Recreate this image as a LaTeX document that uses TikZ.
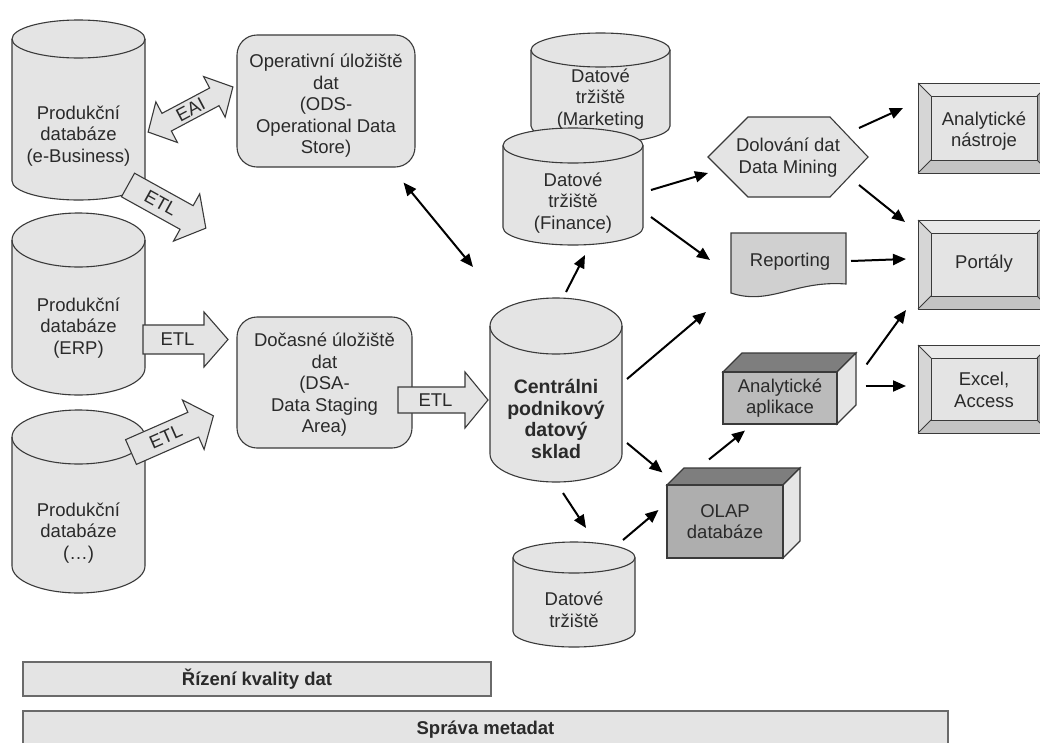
\documentclass[tikz,border=0pt]{standalone}
\usepackage{fontspec}
\setmainfont{Liberation Sans}
\usetikzlibrary{arrows.meta}
\definecolor{fillg}{HTML}{E4E4E4}
\definecolor{edge}{HTML}{3A3A3A}
\definecolor{txtc}{HTML}{2A2A2A}
\definecolor{repc}{HTML}{D0D0D0}
\definecolor{aac}{HTML}{BBBBBB}
\definecolor{olapc}{HTML}{AEAEAE}
\definecolor{cubetop}{HTML}{7E7E7E}
\definecolor{cubeside}{HTML}{E6E6E6}
\definecolor{bvtopc}{HTML}{E9E9E9}
\definecolor{bvleftc}{HTML}{D6D6D6}
\definecolor{bvbotc}{HTML}{C4C4C4}
\definecolor{bvrightc}{HTML}{A4A4A4}
\definecolor{barline}{HTML}{6A6A6A}
\tikzset{
  shp/.style={draw=edge, line width=1.1pt, fill=fillg},
  txt/.style={text=txtc, align=center, inner sep=0pt, font=\fontsize{18.5}{21.5}\selectfont},
  holder/.style={inner sep=0pt, outer sep=0pt},
  arr/.style={line width=2pt, draw=black, -{Triangle[length=13pt,width=11pt]}},
  darr/.style={line width=2pt, draw=black, {Triangle[length=13pt,width=11pt]}-{Triangle[length=13pt,width=11pt]}},
  bvline/.style={draw=edge, line width=1pt},
  barbox/.style={draw=barline, line width=1.2pt, fill=fillg, inner sep=0pt, text=txtc, font=\fontsize{18.5}{21.5}\selectfont\bfseries}
}
\newcommand\cenfont{\fontsize{19.5}{21.5}\selectfont\bfseries}
% cylinder: name, L, T, R, B (px, y down), ry, text y, text
\newcommand\cylnode[8]{%
  \pgfmathsetmacro\cyx{(#2+#4)/2}%
  \pgfmathsetmacro\cyr{(#4-#2)/2}%
  \pgfmathsetmacro\cyw{#4-#2}%
  \pgfmathsetmacro\cyh{#5-#3}%
  \pgfmathsetmacro\cym{-(#3+#5)/2}%
  \filldraw[shp] (#2,-#3-#6) -- (#2,-#5+#6) arc[start angle=180,end angle=360,x radius=\cyr,y radius=#6] -- (#4,-#3-#6) arc[start angle=0,end angle=180,x radius=\cyr,y radius=#6] -- cycle;
  \draw[shp,fill=none] (#2,-#3-#6) arc[start angle=180,end angle=360,x radius=\cyr,y radius=#6];
  \node[holder, minimum width=\cyw, minimum height=\cyh] (#1) at (\cyx,\cym) {};
  \node[txt] (#1-t) at (\cyx,-#7) {#8};
}
% bevelled box: name, L, T, R, B, text y, text
\newcommand\bevbox[7]{%
  \fill[bvtopc] (#2,-#3) -- (#4,-#3) -- (#4-13,-#3-13) -- (#2+13,-#3-13) -- cycle;
  \fill[bvleftc] (#2,-#3) -- (#2+13,-#3-13) -- (#2+13,-#5+13) -- (#2,-#5) -- cycle;
  \fill[bvbotc] (#2,-#5) -- (#2+13,-#5+13) -- (#4-13,-#5+13) -- (#4,-#5) -- cycle;
  \fill[bvrightc] (#4,-#3) -- (#4-13,-#3-13) -- (#4-13,-#5+13) -- (#4,-#5) -- cycle;
  \filldraw[bvline, fill=fillg] (#2+13,-#3-13) rectangle (#4-13,-#5+13);
  \draw[bvline] (#2,-#3) rectangle (#4,-#5);
  \draw[bvline] (#2,-#3) -- (#2+13,-#3-13) (#4,-#3) -- (#4-13,-#3-13) (#2,-#5) -- (#2+13,-#5+13) (#4,-#5) -- (#4-13,-#5+13);
  \pgfmathsetmacro\bvx{(#2+#4)/2}%
  \pgfmathsetmacro\bvy{-(#3+#5)/2}%
  \pgfmathsetmacro\bvw{#4-#2}%
  \pgfmathsetmacro\bvh{#5-#3}%
  \node[holder, minimum width=\bvw, minimum height=\bvh] (#1) at (\bvx,\bvy) {};
  \node[txt] (#1-t) at (\bvx,-#6) {#7};
}
% 3D box: name, L, T, R, B (front face), depth, front colour, text
\newcommand\cubenode[8]{%
  \filldraw[shp, fill=cubetop] (#2,-#3) -- (#2+#6,-#3+#6) -- (#4+#6,-#3+#6) -- (#4,-#3) -- cycle;
  \filldraw[shp, fill=cubeside] (#4,-#3) -- (#4+#6,-#3+#6) -- (#4+#6,-#5+#6) -- (#4,-#5) -- cycle;
  \pgfmathsetmacro\cbx{(#2+#4)/2}%
  \pgfmathsetmacro\cby{-(#3+#5)/2}%
  \pgfmathsetmacro\cbw{#4-#2}%
  \pgfmathsetmacro\cbh{#5-#3}%
  \node[shp, txt, fill=#7, minimum width=\cbw, minimum height=\cbh] (#1) at (\cbx,\cby) {#8};
}
% block arrow: name, tail x, tail y, angle, length, shaft half, head half, head length, label
\newcommand\blockarr[9]{%
  \begin{scope}[shift={(#2,-#3)}, rotate=#4]
    \filldraw[shp] (0,-#6) -- (#5-#8,-#6) -- (#5-#8,-#7) -- (#5,0) -- (#5-#8,#7) -- (#5-#8,#6) -- (0,#6) -- cycle;
    \node[txt, rotate=#4] (#1) at ({(#5-#8)/2+4},0) {#9};
  \end{scope}
}
\begin{document}
\begin{tikzpicture}[x=1pt,y=1pt]
\useasboundingbox (0,0) rectangle (1040,-742);
\clip (0,0) rectangle (1040,-742);
\fill[white] (0,0) rectangle (1040,-742);

% production databases
\cylnode{eb}{12}{20}{145}{200}{19}{136}{Produkční\\databáze\\(e-Business)}
\cylnode{erp}{12}{213}{145}{395}{27}{328}{Produkční\\databáze\\(ERP)}
\cylnode{oth}{12}{410}{145}{593}{27}{533}{Produkční\\databáze\\(…)}

% ODS and DSA
\node[shp, rounded corners=20pt, minimum width=178, minimum height=132, inner sep=0pt] (ods) at (326,-101) {};
\node[txt] (ods-t) at (326,-106) {Operativní úložiště\\dat\\(ODS-\\Operational Data\\Store)};
\node[shp, rounded corners=20pt, minimum width=175, minimum height=131, inner sep=0pt] (dsa) at (324.5,-382.5) {};
\node[txt] (dsa-t) at (324.5,-385) {Dočasné úložiště\\dat\\(DSA-\\Data Staging\\Area)};

% data marts and central warehouse
\cylnode{mkt}{531}{33}{670}{143}{17}{99}{Datové\\tržiště\\(Marketing}
\cylnode{fin}{503}{128}{643}{245}{17.5}{203}{Datové\\tržiště\\(Finance)}
\cylnode{cen}{490}{298}{622}{482}{28}{419}{\cenfont Centrálni\\\cenfont podnikový\\\cenfont datový\\\cenfont sklad}
\cylnode{dt}{513}{542}{635}{647}{15.5}{610}{Datové\\tržiště}

% data mining hexagon
\filldraw[shp] (708,-157) -- (748,-117) -- (830,-117) -- (868,-157) -- (830,-197) -- (748,-197) -- cycle;
\node[holder, minimum width=160, minimum height=80] (dm) at (788,-157) {};
\node[txt] (dm-t) at (788,-157.5) {Dolování dat\\Data Mining};

% reporting document
\filldraw[shp, fill=repc] (731,-233) -- (846,-233) -- (846,-284) .. controls (795,-280) and (770,-306) .. (731,-293) -- cycle;
\node[holder, minimum width=115, minimum height=62] (rep) at (788.5,-264) {};
\node[txt] (rep-t) at (790,-262) {Reporting};

% 3D boxes
\cubenode{aa}{723}{372}{837}{424}{19}{aac}{Analytické\\aplikace}
\cubenode{olap}{667}{485}{783}{558}{17}{olapc}{OLAP\\databáze}

% bevelled output boxes
\bevbox{ant}{918}{83}{1050}{173}{131}{Analytické\\nástroje}
\bevbox{por}{918}{220}{1050}{309}{264}{Portály}
\bevbox{exc}{918}{345}{1050}{433}{390}{Excel,\\Access}

% block arrows
\blockarr{etl1}{128}{185}{-29}{89}{13.5}{27}{22}{ETL}
\blockarr{etl2}{143}{339.5}{0}{85}{14.5}{27.5}{24}{ETL}
\blockarr{etl3}{131}{452}{23.7}{90}{13.5}{27}{22}{ETL}
\blockarr{etl4}{398}{400}{0}{90}{13}{28}{23}{ETL}
\begin{scope}[shift={(190.5,-109.5)}, rotate=28]
  \filldraw[shp] (-48,0) -- (-27,23) -- (-27,10) -- (27,10) -- (27,23) -- (48,0) -- (27,-23) -- (27,-10) -- (-27,-10) -- (-27,-23) -- cycle;
  \node[txt, rotate=28] (eai) at (0,0) {EAI};
\end{scope}

% connectors
\draw[darr] ([shift={(-12,-15)}]ods.south east) -- ([shift={(-17,31)}]cen.north west);
\draw[arr] ([shift={(10,6)}]cen.north) -- ([shift={(12,-10)}]fin.south);
\draw[arr] ([shift={(8,-3.5)}]fin.east) -- ([shift={(0,-16)}]dm.west);
\draw[arr] ([shift={(8,-30.5)}]fin.east) -- ([shift={(-21,4)}]rep.west);
\draw[arr] ([shift={(-9,29)}]dm.east) -- ([shift={(-15,20)}]ant.west);
\draw[arr] ([shift={(-9,-28)}]dm.east) -- ([shift={(-13,42.5)}]por.west);
\draw[arr] ([shift={(5,3)}]rep.east) -- ([shift={(-12,5.5)}]por.west);
\draw[arr] ([shift={(5,11)}]cen.east) -- ([shift={(-25,-17)}]rep.south west);
\draw[arr] ([shift={(5,-53)}]cen.east) -- ([shift={(-4,12)}]olap.north west);
\draw[arr] ([shift={(7,-11)}]cen.south) -- ([shift={(12,14)}]dt.north);
\draw[arr] ([shift={(-12,2)}]dt.north east) -- ([shift={(-8,11.5)}]olap.west);
\draw[arr] ([shift={(-16,25)}]olap.north) -- ([shift={(-35,-6)}]aa.south);
\draw[arr] ([shift={(29,7)}]aa.north east) -- ([shift={(-12,-1)}]por.south west);
\draw[arr] ([shift={(28,12)}]aa.east) -- ([shift={(-12,3)}]exc.west);

% bottom bars
\node[barbox, minimum width=468, minimum height=34] (rq) at (257,-679) {Řízení kvality dat};
\node[barbox, minimum width=925, minimum height=38] (sm) at (485.5,-730) {Správa metadat};
\end{tikzpicture}
\end{document}
